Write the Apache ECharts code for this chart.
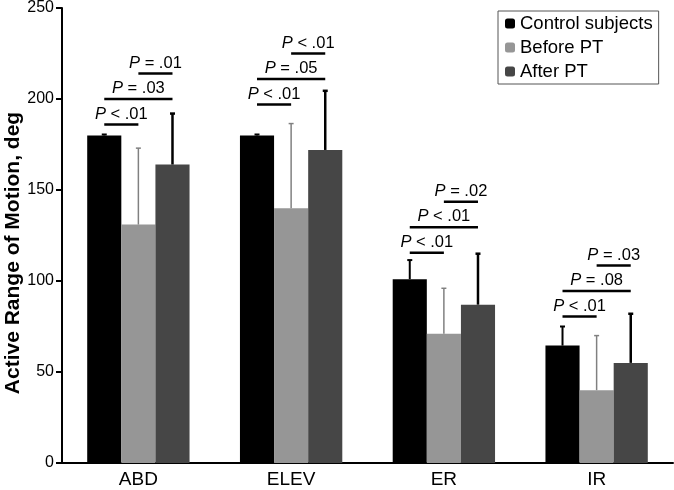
<!DOCTYPE html>
<html>
<head>
<meta charset="UTF-8">
<title>Active Range of Motion</title>
<script src="https://cdn.jsdelivr.net/npm/echarts@6/dist/echarts.min.js"></script>
<style>
  html, body { margin: 0; padding: 0; background: #fff; }
  #chart { width: 674px; height: 490px; }
</style>
</head>
<body>
<div id="chart"></div>
<script>
// data
var categories = ['ABD', 'ELEV', 'ER', 'IR'];
var controlMean = [180, 180, 101, 64.5];
var controlSD = [0.5, 0.5, 10.5, 10.5];
var beforeMean = [131, 140, 71, 40];
var beforeSD = [42, 46.5, 25, 30];
var afterMean = [164, 172, 87, 55];
var afterSD = [28, 32.5, 28, 27];

// p-value brackets: category, from bar, to bar, height, text
var pCat = [0, 0, 0, 1, 1, 1, 2, 2, 2, 3, 3, 3];
var pFrom = [0, 0, 1, 0, 0, 1, 0, 0, 1, 0, 0, 1];
var pTo = [1, 2, 2, 1, 2, 2, 1, 2, 2, 1, 2, 2];
var pLevel = [186, 200, 214, 197, 211, 225, 115.5, 129.5, 143.5, 80.5, 94.5, 108.5];
var pText = ['< .01', '= .03', '= .01', '< .01', '= .05', '< .01', '< .01', '< .01', '= .02', '< .01', '= .08', '= .03'];

var catGap = 0.33;
var colors = ['#000000', '#969696', '#464646'];
var errColors = ['#000000', '#808080', '#000000'];
var errWidths = [2, 1.5, 2.5];
var font = 'Liberation Sans, Arial';

function barOffset(api, idx) {
  var band = api.size([1, 0])[0];
  var bw = band * (1 - catGap) / 3;
  return { off: (idx - 1) * bw, bw: bw };
}

function errData(mean, sd) {
  var out = [];
  for (var i = 0; i < mean.length; i++) out.push([i, mean[i], mean[i] + sd[i]]);
  return out;
}

// whiskers go up only
function errSeries(idx, mean, sd) {
  return {
    type: 'custom',
    name: 'err' + idx,
    data: errData(mean, sd),
    z: 3,
    renderItem: function (params, api) {
      var lo = api.coord([api.value(0), api.value(1)]);
      var hi = api.coord([api.value(0), api.value(2)]);
      var x = lo[0] + barOffset(api, idx).off;
      var st = { stroke: errColors[idx], lineWidth: errWidths[idx] };
      return {
        type: 'group',
        children: [
          { type: 'line', shape: { x1: x, y1: lo[1], x2: x, y2: hi[1] }, style: st },
          { type: 'line', shape: { x1: x - 2.5, y1: hi[1], x2: x + 2.5, y2: hi[1] }, style: st }
        ]
      };
    }
  };
}

var pData = [];
for (var k = 0; k < pCat.length; k++) pData.push([pCat[k], pLevel[k], pFrom[k], pTo[k], pText[k]]);

var option = {
  animation: false,
  grid: { left: 62, right: 1, top: 6, bottom: 27 },
  legend: {
    data: ['Control subjects', 'Before PT', 'After PT'],
    orient: 'vertical',
    left: 498,
    top: 11,
    itemWidth: 10,
    itemHeight: 10,
    itemGap: 5,
    padding: [3, 6, 3, 7],
    borderColor: '#555',
    borderWidth: 1,
    backgroundColor: '#fff',
    textStyle: { fontFamily: font, fontSize: 18.5, color: '#000' }
  },
  xAxis: {
    type: 'category',
    data: categories,
    axisLine: { lineStyle: { color: '#000', width: 2 } },
    axisTick: { show: false },
    axisLabel: { fontFamily: font, fontSize: 19, color: '#000', margin: 7 }
  },
  yAxis: {
    type: 'value',
    min: 0,
    max: 250,
    interval: 50,
    splitLine: { show: false },
    axisLine: { show: true, lineStyle: { color: '#000', width: 2 } },
    axisTick: { show: true, length: 6, lineStyle: { color: '#000', width: 2 } },
    axisLabel: { fontFamily: font, fontSize: 16, color: '#000', margin: 8 }
  },
  graphic: [{
    type: 'text',
    x: 13,
    y: 253,
    rotation: Math.PI / 2,
    style: {
      text: 'Active Range of Motion, deg',
      fontFamily: font,
      fontSize: 21,
      fontWeight: 'bold',
      fill: '#000',
      align: 'center',
      verticalAlign: 'middle'
    }
  }],
  series: [
    { type: 'bar', name: 'Control subjects', data: controlMean, barGap: 0, barCategoryGap: '33%', itemStyle: { color: colors[0] } },
    { type: 'bar', name: 'Before PT', data: beforeMean, barGap: 0, barCategoryGap: '33%', itemStyle: { color: colors[1] } },
    { type: 'bar', name: 'After PT', data: afterMean, barGap: 0, barCategoryGap: '33%', itemStyle: { color: colors[2] } },
    errSeries(0, controlMean, controlSD),
    errSeries(1, beforeMean, beforeSD),
    errSeries(2, afterMean, afterSD),
    {
      type: 'custom',
      name: 'pvals',
      data: pData,
      z: 4,
      renderItem: function (params, api) {
        var c = api.coord([api.value(0), api.value(1)]);
        var x1 = c[0] + barOffset(api, api.value(2)).off;
        var x2 = c[0] + barOffset(api, api.value(3)).off;
        return {
          type: 'group',
          children: [
            { type: 'line', shape: { x1: x1, y1: c[1], x2: x2, y2: c[1] }, style: { stroke: '#000', lineWidth: 2.5 } },
            {
              type: 'text',
              x: (x1 + x2) / 2,
              y: c[1] - 2,
              style: {
                text: '{i|P} ' + pData[params.dataIndex][4],
                align: 'center',
                verticalAlign: 'bottom',
                fontFamily: font,
                fontSize: 16.5,
                fill: '#000',
                rich: { i: { fontStyle: 'italic', fontFamily: font, fontSize: 16.5, fill: '#000' } }
              }
            }
          ]
        };
      }
    }
  ]
};

var myChart = echarts.init(document.getElementById('chart'));
myChart.setOption(option);
</script>
</body>
</html>
